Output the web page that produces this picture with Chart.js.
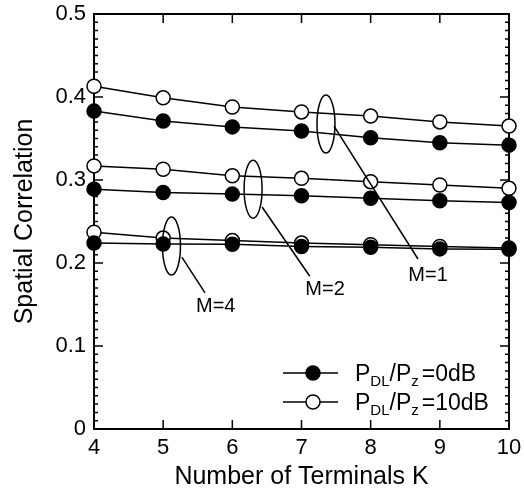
<!DOCTYPE html>
<html>
<head>
<meta charset="utf-8">
<script src="https://cdn.jsdelivr.net/npm/chart.js@4.4.0/dist/chart.umd.min.js"></script>
<style>
  html, body { margin: 0; padding: 0; background: #fff; }
  canvas { display: block; }
</style>
</head>
<body>
<canvas id="c" width="524" height="495"></canvas>
<script>
// ---- data ----
const kValues = [4, 5, 6, 7, 8, 9, 10];
const m1_0dB  = [0.383, 0.371, 0.364, 0.359, 0.351, 0.345, 0.342];
const m1_10dB = [0.413, 0.399, 0.388, 0.382, 0.377, 0.370, 0.365];
const m2_0dB  = [0.289, 0.285, 0.283, 0.281, 0.278, 0.275, 0.273];
const m2_10dB = [0.317, 0.313, 0.305, 0.302, 0.298, 0.294, 0.290];
const m4_0dB  = [0.224, 0.223, 0.2225, 0.220, 0.219, 0.217, 0.2165];
const m4_10dB = [0.237, 0.230, 0.227, 0.224, 0.222, 0.220, 0.218];
const yTicks = [0, 0.1, 0.2, 0.3, 0.4, 0.5];
const xTicks = [4, 5, 6, 7, 8, 9, 10];

// group annotations (data coordinates)
const groupLabels = ['M=1', 'M=2', 'M=4'];
const ellipseCenters = [[7.354, 0.3675], [6.30, 0.289], [5.12, 0.2205]];
const leaderStarts = [[7.47, 0.365], [6.43, 0.2675], [5.27, 0.207]];
const leaderEnds = [[8.684, 0.2048], [7.12, 0.184], [5.605, 0.164]];
const labelPos = [[8.83, 0.1855], [7.34, 0.1675], [5.76, 0.148]];

const FONT = '"Liberation Sans", Arial, Helvetica, sans-serif';

function pts(arr) { return kValues.map((k, i) => ({ x: k, y: arr[i] })); }
function ds(arr, filled) {
  return {
    data: pts(arr),
    borderColor: '#000',
    borderWidth: 1.5,
    pointRadius: 7,
    pointHoverRadius: 7,
    pointBorderWidth: 1.5,
    pointBorderColor: '#000',
    pointBackgroundColor: filled ? '#000' : '#fff',
    backgroundColor: filled ? '#000' : '#fff',
    tension: 0,
    fill: false,
    clip: false
  };
}

const framePlugin = {
  id: 'frame',
  beforeDatasetsDraw(chart) {
    const { ctx, chartArea: a, scales: { x, y } } = chart;
    ctx.save();
    ctx.strokeStyle = '#000';
    ctx.lineWidth = 1.5;
    ctx.beginPath();
    for (let i = 0; i <= 50; i++) {
      const py = y.getPixelForValue(i / 100);
      const len = (i % 10 === 0) ? 9 : 4;
      ctx.moveTo(a.left, py); ctx.lineTo(a.left + len, py);
      ctx.moveTo(a.right, py); ctx.lineTo(a.right - len, py);
    }
    xTicks.forEach(k => {
      const px = x.getPixelForValue(k);
      ctx.moveTo(px, a.bottom); ctx.lineTo(px, a.bottom - 9);
      ctx.moveTo(px, a.top); ctx.lineTo(px, a.top + 9);
    });
    ctx.stroke();
    ctx.lineWidth = 2;
    ctx.strokeRect(a.left, a.top, a.right - a.left, a.bottom - a.top);
    ctx.restore();
  }
};

const annotPlugin = {
  id: 'annot',
  afterDatasetsDraw(chart) {
    const { ctx, scales: { x, y } } = chart;
    ctx.save();
    ctx.strokeStyle = '#000';
    ctx.fillStyle = '#000';
    ctx.lineWidth = 1.5;
    groupLabels.forEach((lab, i) => {
      const cx = x.getPixelForValue(ellipseCenters[i][0]);
      const cy = y.getPixelForValue(ellipseCenters[i][1]);
      ctx.beginPath();
      ctx.ellipse(cx, cy, 9, 29, 0, 0, Math.PI * 2);
      ctx.stroke();
      ctx.beginPath();
      ctx.moveTo(x.getPixelForValue(leaderStarts[i][0]), y.getPixelForValue(leaderStarts[i][1]));
      ctx.lineTo(x.getPixelForValue(leaderEnds[i][0]), y.getPixelForValue(leaderEnds[i][1]));
      ctx.stroke();
      ctx.font = '20px ' + FONT;
      ctx.textAlign = 'center';
      ctx.textBaseline = 'middle';
      ctx.fillText(lab, x.getPixelForValue(labelPos[i][0]), y.getPixelForValue(labelPos[i][1]));
    });
    ctx.restore();
  }
};

const legendPlugin = {
  id: 'customLegend',
  afterDraw(chart) {
    const { ctx, chartArea: a } = chart;
    const rows = [
      { filled: true, tail: '=0dB', dy: -56 },
      { filled: false, tail: '=10dB', dy: -27 }
    ];
    ctx.save();
    ctx.strokeStyle = '#000';
    ctx.fillStyle = '#000';
    rows.forEach(r => {
      const yy = a.bottom + r.dy;
      const x0 = a.right - 226, x1 = a.right - 171, xm = a.right - 196;
      ctx.lineWidth = 1.5;
      ctx.beginPath(); ctx.moveTo(x0, yy); ctx.lineTo(x1, yy); ctx.stroke();
      ctx.beginPath(); ctx.arc(xm, yy, 7, 0, Math.PI * 2);
      ctx.fillStyle = r.filled ? '#000' : '#fff';
      ctx.fill(); ctx.stroke();
      ctx.fillStyle = '#000';
      ctx.textAlign = 'left';
      ctx.textBaseline = 'alphabetic';
      const base = yy + 8;
      let tx = a.right - 154;
      const big = '23px ' + FONT, small = '15px ' + FONT;
      ctx.font = big; ctx.fillText('P', tx, base); tx += ctx.measureText('P').width;
      ctx.font = small; ctx.fillText('DL', tx, base + 5); tx += ctx.measureText('DL').width;
      ctx.font = big; ctx.fillText('/P', tx, base); tx += ctx.measureText('/P').width;
      ctx.font = small; ctx.fillText('z', tx, base + 5); tx += ctx.measureText('z').width + 3;
      ctx.font = big; ctx.fillText(r.tail, tx, base);
    });
    ctx.restore();
  }
};

new Chart(document.getElementById('c'), {
  type: 'line',
  data: {
    datasets: [
      ds(m1_0dB, true), ds(m1_10dB, false),
      ds(m2_0dB, true), ds(m2_10dB, false),
      ds(m4_0dB, true), ds(m4_10dB, false)
    ]
  },
  options: {
    responsive: false,
    animation: false,
    devicePixelRatio: 1,
    layout: { padding: { left: 0, right: 15, top: 14, bottom: 0 } },
    plugins: { legend: { display: false }, tooltip: { enabled: false } },
    scales: {
      x: {
        type: 'linear', min: 4, max: 10,
        afterFit: s => { s.height = 66; s.paddingLeft = 0; s.paddingRight = 0; },
        afterBuildTicks: s => { s.ticks = xTicks.map(v => ({ value: v })); },
        grid: { display: false, drawTicks: false },
        border: { display: false },
        ticks: { color: '#000', font: { size: 22, family: FONT }, padding: 6, maxRotation: 0 },
        title: { display: true, text: 'Number of Terminals K', color: '#000',
                 font: { size: 25, family: FONT }, padding: { top: 4, bottom: 3 } }
      },
      y: {
        type: 'linear', min: 0, max: 0.5,
        afterFit: s => { s.width = 94; s.paddingTop = 0; s.paddingBottom = 0; },
        afterBuildTicks: s => { s.ticks = yTicks.map(v => ({ value: v })); },
        grid: { display: false, drawTicks: false },
        border: { display: false },
        ticks: { color: '#000', font: { size: 22, family: FONT }, padding: 8,
                 callback: v => String(Math.round(v * 10) / 10) },
        title: { display: true, text: 'Spatial Correlation', color: '#000',
                 font: { size: 25, family: FONT }, padding: { top: 10, bottom: 4 } }
      }
    }
  },
  plugins: [framePlugin, annotPlugin, legendPlugin]
});
</script>
</body>
</html>
